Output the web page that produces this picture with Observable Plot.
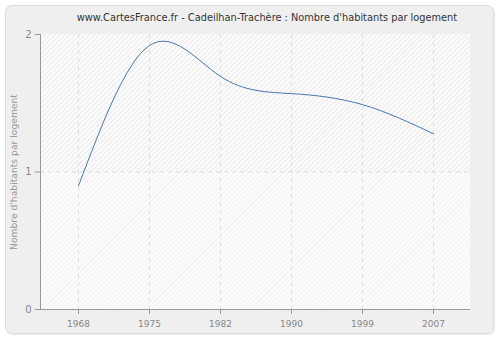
<!DOCTYPE html>
<html>
<head>
<meta charset="utf-8">
<script src="https://cdn.jsdelivr.net/npm/d3@7"></script>
<script src="https://cdn.jsdelivr.net/npm/@observablehq/plot@0.6"></script>
<style>
  html, body { margin: 0; padding: 0; background: #ffffff; }
  #wrap { position: relative; width: 500px; height: 340px; overflow: hidden; }
  #panel { position: absolute; left: 5px; top: 5px; width: 487px; height: 327px;
    background: #efefef; border: 1px solid #dcdcdc; border-radius: 7px;
    box-shadow: 1px 1px 2px rgba(0,0,0,0.08); }
  #title { position: absolute; left: 40px; width: 454px; top: 12px; text-align: center;
    font-family: "DejaVu Sans", sans-serif; font-size: 9.8px; color: #333; white-space: nowrap; }
  #chart { position: absolute; left: 0; top: 0; }
</style>
</head>
<body>
<div id="wrap">
  <div id="panel"></div>
  <div id="chart"></div>
  <div id="title">www.CartesFrance.fr - Cadeilhan-Trachère : Nombre d'habitants par logement</div>
</div>
<script>
const years = ["1968", "1975", "1982", "1990", "1999", "2007"];
const values = [0.9, 1.92, 1.695, 1.57, 1.49, 1.278];
const yTicks = [0, 1, 2];
const yLabel = "Nombre d'habitants par logement";

const data = years.map((y, i) => ({year: y, value: values[i]}));

const defs = () => {
  const g = d3.create("svg:defs");
  const mk = (id, color) => {
    const p = g.append("pattern").attr("id", id).attr("patternUnits", "userSpaceOnUse")
      .attr("width", 3.5).attr("height", 3.5).attr("patternTransform", "rotate(45)");
    p.append("rect").attr("width", 3.5).attr("height", 3.5).attr("fill", "#fcfcfc");
    p.append("line").attr("x1", 0.5).attr("y1", 0).attr("x2", 0.5).attr("y2", 3.5)
      .attr("stroke", color).attr("stroke-width", 1);
  };
  mk("hatchHi", "#e9e9e9");
  mk("hatchLo", "#f1f1f1");
  return g.node();
};

const axisLines = (index, scales, values, dim) => {
  const g = d3.create("svg:g").attr("stroke", "#999").attr("stroke-width", 1);
  const l = dim.marginLeft, r = dim.width - dim.marginRight;
  const t = dim.marginTop, b = dim.height - dim.marginBottom;
  g.append("line").attr("x1", l + 0.5).attr("x2", l + 0.5).attr("y1", t).attr("y2", b + 0.5);
  g.append("line").attr("x1", l).attr("x2", r).attr("y1", b + 0.5).attr("y2", b + 0.5);
  return g.node();
};

const bands = [{y1: 0, y2: 1, fill: "url(#hatchLo)"}, {y1: 1, y2: 2, fill: "url(#hatchHi)"}];

const chart = Plot.plot({
  width: 500,
  height: 340,
  marginLeft: 40,
  marginRight: 30,
  marginTop: 34,
  marginBottom: 31,
  style: {background: "transparent", fontFamily: "DejaVu Sans, sans-serif", fontSize: "9px", color: "#888"},
  x: {type: "point", domain: years, padding: 0.5, label: null},
  y: {domain: [0, 2], label: null},
  marks: [
    defs,
    Plot.rect(bands, {y1: "y1", y2: "y2", fill: "fill"}),
    Plot.gridX(years, {stroke: "#dddddd", strokeOpacity: 1, strokeDasharray: "4,4"}),
    Plot.gridY([1], {stroke: "#dddddd", strokeOpacity: 1, strokeDasharray: "4,4"}),
    Plot.axisY(yTicks, {tickSize: 5, tickPadding: 4, tickFormat: "d", stroke: "#999", fill: "#888", fontSize: 10, label: null}),
    Plot.axisX(years, {tickSize: 5, tickPadding: 6, stroke: "#999", fill: "#888", fontSize: 9, label: null}),
    Plot.text([yLabel], {frameAnchor: "left", textAnchor: "middle", dx: -26, rotate: -90, fill: "#999", fontSize: 9.2, text: d => d}),
    axisLines,
    Plot.line(data, {x: "year", y: "value", stroke: "#4a76ad", strokeWidth: 1, curve: "natural"})
  ]
});
document.getElementById("chart").appendChild(chart);
</script>
</body>
</html>
